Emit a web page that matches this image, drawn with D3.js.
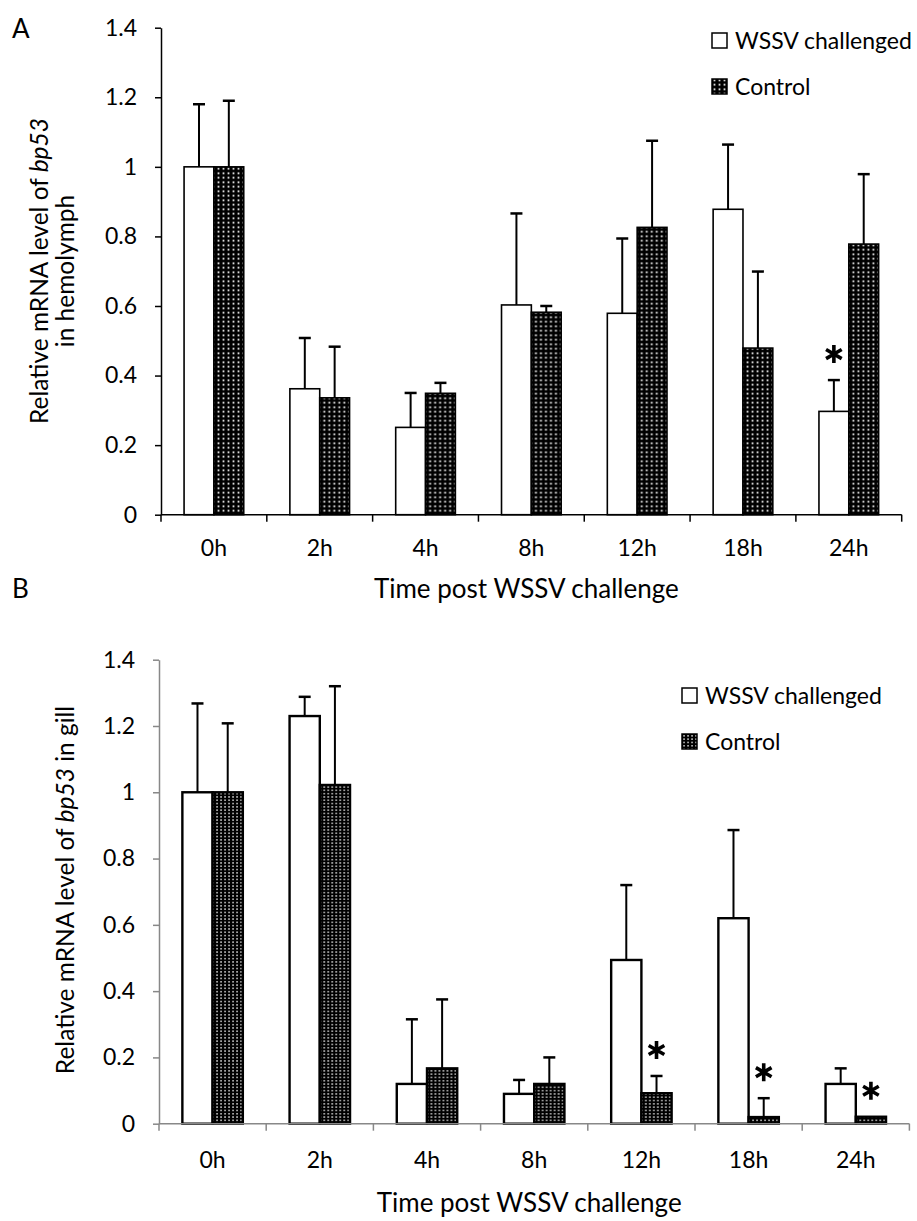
<!DOCTYPE html>
<html>
<head>
<meta charset="utf-8">
<script src="https://cdn.jsdelivr.net/npm/d3@7"></script>
<style>
  body { margin: 0; background: #fff; }
  text { font-family: Lato, "Open Sans", sans-serif; fill: #000; }
</style>
</head>
<body>
<div id="content"></div>
<script>
const w = 917
const h = 1221

// categories and tick labels
const hours = ["0h", "2h", "4h", "8h", "12h", "18h", "24h"]
const yTicks = [0, 0.2, 0.4, 0.6, 0.8, 1, 1.2, 1.4]

// panel A: hemolymph
const hemoWssv    = [1.0, 0.362, 0.251, 0.603, 0.579, 0.878, 0.297]
const hemoWssvErr = [0.18, 0.146, 0.099, 0.263, 0.215, 0.186, 0.09]
const hemoCtrl    = [1.0, 0.336, 0.349, 0.582, 0.826, 0.479, 0.778]
const hemoCtrlErr = [0.19, 0.147, 0.03, 0.018, 0.249, 0.22, 0.201]
const hemoSig     = [{hour: "24h", series: "wssv"}]

// panel B: gill
const gillWssv    = [1.0, 1.23, 0.12, 0.09, 0.494, 0.62, 0.12]
const gillWssvErr = [0.268, 0.058, 0.195, 0.042, 0.226, 0.266, 0.047]
const gillCtrl    = [1.0, 1.022, 0.167, 0.12, 0.092, 0.02, 0.021]
const gillCtrlErr = [0.208, 0.298, 0.208, 0.08, 0.052, 0.057, 0]
const gillSig     = [{hour: "12h", series: "ctrl"}, {hour: "18h", series: "ctrl"}, {hour: "24h", series: "ctrl"}]

const seriesNames = ["WSSV challenged", "Control"]

let svg = d3.select("#content").append("svg")
  .attr("width", w)
  .attr("height", h)

svg.append("rect").attr("width", w).attr("height", h).attr("fill", "#fff")

let defs = svg.append("defs")

// coarse dotted fill (panel A)
let pA = defs.append("pattern").attr("id", "dotsA")
  .attr("patternUnits", "userSpaceOnUse").attr("width", 5).attr("height", 4.5)
pA.append("rect").attr("width", 5).attr("height", 4.5).attr("fill", "#000")
pA.append("rect").attr("x", 1.6).attr("y", 1.4).attr("width", 1.8).attr("height", 1.7).attr("fill", "#fff")

// fine dotted fill (panel B)
let pB = defs.append("pattern").attr("id", "dotsB")
  .attr("patternUnits", "userSpaceOnUse").attr("width", 4).attr("height", 3.3)
pB.append("rect").attr("width", 4).attr("height", 3.3).attr("fill", "#000")
pB.append("rect").attr("x", 1.3).attr("y", 1).attr("width", 1.5).attr("height", 1.3).attr("fill", "#fff")

let star = d3.symbol().type(d3.symbolAsterisk).size(230)

function panel(o) {
  let g = svg.append("g")

  let x = d3.scaleBand().domain(hours).range([o.left, o.right])
  let bw = x.bandwidth()
  let x1 = d3.scaleBand().domain(["wssv", "ctrl"]).range([bw * 0.218, bw * 0.782])
  let y = d3.scaleLinear().domain([0, 1.4]).range([o.bottom, o.top])

  let rows = hours.map((hr, i) => ({
    hour: hr,
    wssv: o.wssv[i], wssvErr: o.wssvErr[i],
    ctrl: o.ctrl[i], ctrlErr: o.ctrlErr[i]
  }))

  // y axis
  let ya = g.append("g")
    .attr("transform", "translate(" + o.left + ",0)")
    .call(d3.axisLeft(y).tickValues(yTicks).tickFormat(d3.format("")).tickSize(6).tickSizeOuter(0).tickPadding(18))
  ya.select(".domain").attr("stroke", o.axisColor).attr("stroke-width", 1.5)
  ya.selectAll(".tick line").attr("stroke", o.axisColor).attr("stroke-width", 1.5)
  ya.selectAll(".tick text").attr("font-size", 23).attr("font-family", "Lato").attr("fill", "#000")

  // bars + error bars
  let grp = g.selectAll(".grp").data(rows).enter().append("g")
    .attr("transform", d => "translate(" + x(d.hour) + ",0)")

  ;["wssv", "ctrl"].forEach(s => {
    grp.append("line")
      .attr("x1", x1(s) + x1.bandwidth() / 2).attr("x2", x1(s) + x1.bandwidth() / 2)
      .attr("y1", d => y(d[s])).attr("y2", d => y(d[s] + d[s + "Err"]))
      .attr("stroke", "#000").attr("stroke-width", 2)
      .style("display", d => d[s + "Err"] > 0 ? null : "none")
    grp.append("line")
      .attr("x1", x1(s) + x1.bandwidth() / 2 - 6).attr("x2", x1(s) + x1.bandwidth() / 2 + 6)
      .attr("y1", d => y(d[s] + d[s + "Err"])).attr("y2", d => y(d[s] + d[s + "Err"]))
      .attr("stroke", "#000").attr("stroke-width", 2.5)
      .style("display", d => d[s + "Err"] > 0 ? null : "none")
    grp.append("rect")
      .attr("x", x1(s)).attr("width", x1.bandwidth())
      .attr("y", d => y(d[s])).attr("height", d => y(0) - y(d[s]))
      .attr("fill", s == "wssv" ? "#fff" : "url(#" + o.pattern + ")")
      .attr("stroke", "#000").attr("stroke-width", o.barStroke)
  })

  // x axis: line with ticks at band edges, labels at centres
  let xa = g.append("g").attr("transform", "translate(0," + o.bottom + ")")
  xa.append("line").attr("x1", o.left).attr("x2", o.right)
    .attr("stroke", o.axisColor).attr("stroke-width", 1.5)
  xa.selectAll(".edge").data(hours.concat(["end"])).enter().append("line")
    .attr("x1", d => d == "end" ? o.right : x(d)).attr("x2", d => d == "end" ? o.right : x(d))
    .attr("y1", 0).attr("y2", 7)
    .attr("stroke", o.axisColor).attr("stroke-width", 1.5)
  xa.selectAll(".lab").data(hours).enter().append("text")
    .attr("x", d => x(d) + bw / 2).attr("y", o.labelDy)
    .attr("text-anchor", "middle").attr("font-size", 23)
    .text(d => d)

  // significance marks
  g.selectAll(".sig").data(o.sig).enter().append("path")
    .attr("d", star)
    .attr("transform", d => {
      let r = rows.find(k => k.hour == d.hour)
      let cx = x(d.hour) + x1(d.series) + x1.bandwidth() / 2
      return "translate(" + cx + "," + (y(r[d.series] + r[d.series + "Err"]) - 26) + ")"
    })
    .attr("fill", "none").attr("stroke", "#000").attr("stroke-width", 3.6)

  // axis titles
  g.append("text")
    .attr("x", (o.left + o.right) / 2 - 5).attr("y", o.titleY)
    .attr("text-anchor", "middle").attr("font-size", 26)
    .text("Time post WSSV challenge")

  let yt = g.append("text")
    .attr("transform", "translate(" + o.yTitleX + "," + o.yTitleY + ") rotate(-90)")
    .attr("text-anchor", "middle").attr("font-size", 24.5)
  yt.append("tspan").text("Relative mRNA level of ")
  yt.append("tspan").attr("font-style", "italic").text("bp53")
  if (o.yTitleTail) yt.append("tspan").text(o.yTitleTail)
  if (o.yTitle2) {
    g.append("text")
      .attr("transform", "translate(" + (o.yTitleX + 26) + "," + o.yTitleY + ") rotate(-90)")
      .attr("text-anchor", "middle").attr("font-size", 24.5)
      .text(o.yTitle2)
  }

  // panel letter
  g.append("text").attr("x", 12).attr("y", o.letterY).attr("font-size", 26).text(o.letter)

  // legend
  let lg = g.append("g").attr("transform", "translate(" + o.legX + "," + o.legY + ")")
  lg.selectAll(".key").data(seriesNames).enter().append("rect")
    .attr("x", 0).attr("y", (d, i) => i * 46)
    .attr("width", 15).attr("height", 15)
    .attr("fill", (d, i) => i == 0 ? "#fff" : "url(#" + o.pattern + ")")
    .attr("stroke", "#000").attr("stroke-width", 1.5)
  lg.selectAll(".ktxt").data(seriesNames).enter().append("text")
    .attr("x", 23).attr("y", (d, i) => i * 46 + 16)
    .attr("font-size", 23)
    .text(d => d)
}

panel({
  letter: "A", letterY: 38,
  left: 161, right: 901.7, top: 27.7, bottom: 514.7,
  wssv: hemoWssv, wssvErr: hemoWssvErr, ctrl: hemoCtrl, ctrlErr: hemoCtrlErr, sig: hemoSig,
  axisColor: "#000", pattern: "dotsA", barStroke: 1.6,
  labelDy: 41, titleY: 598,
  yTitleX: 48, yTitleY: 271, yTitle2: "in hemolymph",
  legX: 712, legY: 33
})

panel({
  letter: "B", letterY: 598,
  left: 159, right: 909.4, top: 659.7, bottom: 1123.7,
  wssv: gillWssv, wssvErr: gillWssvErr, ctrl: gillCtrl, ctrlErr: gillCtrlErr, sig: gillSig,
  axisColor: "#888", pattern: "dotsB", barStroke: 2.4,
  labelDy: 44, titleY: 1212,
  yTitleX: 74, yTitleY: 890, yTitleTail: " in gill",
  legX: 682, legY: 688
})
</script>
</body>
</html>
